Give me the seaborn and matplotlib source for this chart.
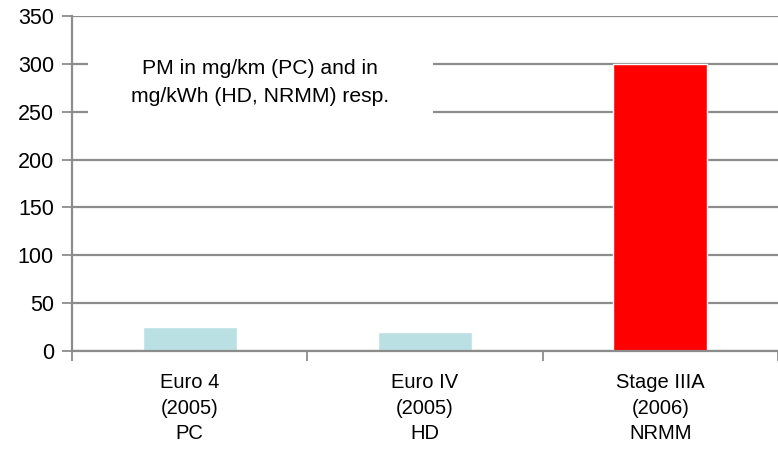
import matplotlib
matplotlib.use("Agg")
import matplotlib.pyplot as plt
from matplotlib.patches import Rectangle
import seaborn as sns
import pandas as pd

categories = ["Euro 4\n(2005)\nPC", "Euro IV\n(2005)\nHD", "Stage IIIA\n(2006)\nNRMM"]
pm_limits = [25, 20, 300]
bar_colors = ["#BAE0E3", "#BAE0E3", "#FF0000"]
y_ticks = [0, 50, 100, 150, 200, 250, 300, 350]
note = "PM in mg/km (PC) and in\nmg/kWh (HD, NRMM) resp."

sns.set_theme(style="white")
plt.rcParams['font.family'] = ['Liberation Sans', 'DejaVu Sans']
plt.rcParams['text.color'] = 'black'
plt.rcParams['xtick.color'] = 'black'
plt.rcParams['ytick.color'] = 'black'

df = pd.DataFrame({"cat": categories, "pm": pm_limits})

fig = plt.figure(figsize=(7.78, 4.49), dpi=100)
ax = fig.add_axes([0.0925, 0.218, 0.9075, 0.7465])

sns.barplot(data=df, x="cat", y="pm", hue="cat", palette=bar_colors,
            width=0.40, saturation=1, legend=False, ax=ax, zorder=2)

grid_c = "#8C8C8C"
ax.set_ylim(0, 350)
ax.set_xlim(-0.5, 2.5)
ax.set_yticks(y_ticks)
ax.yaxis.grid(True, color=grid_c, linewidth=1.6, zorder=0)
ax.set_axisbelow(True)

for s in ["top", "right"]:
    ax.spines[s].set_visible(False)
for s in ["left", "bottom"]:
    ax.spines[s].set_color(grid_c)
    ax.spines[s].set_linewidth(1.6)

ax.set_xlabel("")
ax.set_ylabel("")
ax.tick_params(axis="y", which="major", length=7, width=1.3, color=grid_c,
               direction="out", labelsize=15.5, labelcolor="black", pad=6, left=True)
ax.tick_params(axis="x", which="major", length=0, labelsize=14.5,
               labelcolor="black", pad=16)
ax.set_xticks([-0.5, 0.5, 1.5, 2.5], minor=True)
ax.tick_params(axis="x", which="minor", length=7, width=1.3, color=grid_c,
               direction="out", bottom=True)
for lab in ax.get_xticklabels():
    lab.set_multialignment("center")
    lab.set_linespacing(1.42)

# white label box hiding the gridlines behind the note
ax.add_patch(Rectangle((-0.432, 228), 1.466, 100, facecolor="white",
                       edgecolor="none", zorder=1))
ax.text(0.30, 281, note, ha="center", va="center", fontsize=15.2,
        linespacing=1.6, color="black", zorder=3)

fig.savefig("out.png", dpi=100)
